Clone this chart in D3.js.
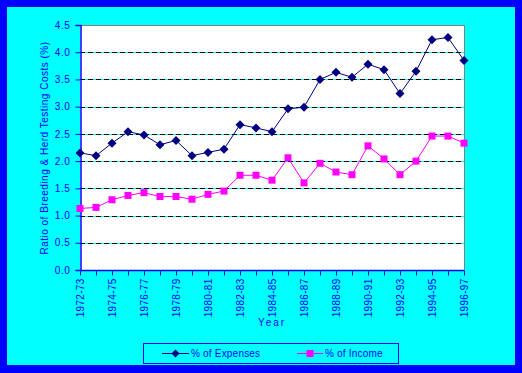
<!DOCTYPE html>
<html><head><meta charset="utf-8">
<script src="https://cdn.jsdelivr.net/npm/d3@7"></script>
<style>
html,body{margin:0;padding:0;background:#0000ff;}
svg{display:block;}
text{font-family:"Liberation Sans",Arial,sans-serif;fill:#0000ff;}
</style></head>
<body>
<svg id="c" width="522" height="373"></svg>
<script>
const years = ["1972-73","1973-74","1974-75","1975-76","1976-77","1977-78","1978-79","1979-80","1980-81","1981-82","1982-83","1983-84","1984-85","1985-86","1986-87","1987-88","1988-89","1989-90","1990-91","1991-92","1992-93","1993-94","1994-95","1995-96","1996-97"];
const expenses = [2.15,2.10,2.33,2.54,2.48,2.30,2.38,2.10,2.16,2.22,2.67,2.61,2.54,2.96,2.99,3.50,3.63,3.54,3.78,3.68,3.24,3.65,4.23,4.27,3.85];
const income = [1.13,1.15,1.29,1.37,1.42,1.35,1.35,1.30,1.39,1.45,1.74,1.74,1.65,2.06,1.60,1.96,1.80,1.75,2.28,2.04,1.75,2.00,2.46,2.46,2.33];
const yTicks = [0,0.5,1.0,1.5,2.0,2.5,3.0,3.5,4.0,4.5];
const seriesNames = ["% of Expenses","% of Income"];

const svg = d3.select("#c");
const W=522,H=373;
svg.append("rect").attr("width",W).attr("height",H).attr("fill","#0000ff");
svg.append("rect").attr("x",7).attr("y",7).attr("width",508).attr("height",358).attr("fill","#00ffff");

const L=80,R=464,T=25,B=270;
const x = d3.scalePoint().domain(years).range([L,R]);
const y = d3.scaleLinear().domain([0,4.5]).range([B,T]);

svg.append("rect").attr("x",L).attr("y",T).attr("width",R-L).attr("height",B-T).attr("fill","#ffffff");
svg.append("path").attr("d",`M${L},${T+0.5}H${R+0.5}V${B}`).attr("fill","none").attr("stroke","#808080").attr("stroke-width",1);

const grid = svg.append("g");
yTicks.filter(v=>v>0&&v<4.5).forEach(v=>{
  const yy = Math.round(y(v))+0.5;
  grid.append("line").attr("x1",L).attr("x2",R).attr("y1",yy).attr("y2",yy).attr("stroke","#00ffff");
  grid.append("line").attr("x1",L).attr("x2",R).attr("y1",yy).attr("y2",yy).attr("stroke","#000000").attr("stroke-dasharray","5,3");
});

const yAxis = d3.axisLeft(y).tickValues(yTicks).tickFormat(d3.format(".1f")).tickSize(5).tickPadding(5);
const gy = svg.append("g").attr("transform",`translate(${L+0.5},0)`).call(yAxis);
gy.select(".domain").attr("stroke","#0000ff").attr("stroke-width",1.5);
gy.selectAll(".tick line").attr("stroke","#0000ff");
gy.selectAll(".tick text").attr("fill","#0000ff").style("font-size","10px").style("letter-spacing","0.6px").style("font-family","Liberation Sans, Arial");

const xAxis = d3.axisBottom(x).tickSize(5).tickPadding(6).tickFormat((d,i)=> i%2===0 ? d : "");
const gx = svg.append("g").attr("transform",`translate(0,${B+0.5})`).call(xAxis);
gx.select(".domain").attr("stroke","#0000ff").attr("stroke-width",1.5).attr("d",`M${L},0H${R}`);
gx.selectAll(".tick line").attr("stroke","#0000ff");
gx.selectAll(".tick text").attr("fill","#0000ff").style("font-size","10px").style("letter-spacing","0.3px").style("font-family","Liberation Sans, Arial")
  .attr("transform","rotate(-90)").attr("text-anchor","end").attr("x",-8).attr("y",0).attr("dy","0.35em");

svg.append("text").attr("transform","translate(48,148) rotate(-90)").attr("text-anchor","middle")
  .style("font-size","10px").style("letter-spacing","0.5px").text("Ratio of Breeding & Herd Testing Costs (%)");
svg.append("text").attr("x",272).attr("y",326).attr("text-anchor","middle")
  .style("font-size","10px").style("letter-spacing","2px").text("Year");

const line = d3.line().x((d,i)=>x(years[i])).y(d=>y(d));
svg.append("path").datum(expenses).attr("d",line).attr("fill","none").attr("stroke","#000080").attr("stroke-width",1);
svg.append("path").datum(income).attr("d",line).attr("fill","none").attr("stroke","#ff00ff").attr("stroke-width",1);

const diamond = (cx,cy,s)=>`M${cx},${cy-s}L${cx+s},${cy}L${cx},${cy+s}L${cx-s},${cy}Z`;
svg.append("g").selectAll("path").data(expenses).join("path")
  .attr("d",(d,i)=>diamond(x(years[i]),y(d),4.5)).attr("fill","#000080");
svg.append("g").selectAll("rect").data(income).join("rect")
  .attr("x",(d,i)=>x(years[i])-3.5).attr("y",d=>y(d)-3.5).attr("width",7).attr("height",7).attr("fill","#ff00ff");

const lg = svg.append("g");
lg.append("rect").attr("x",143.5).attr("y",343.5).attr("width",255).attr("height",20).attr("fill","none").attr("stroke","#0000ff");
lg.append("line").attr("x1",162).attr("x2",189).attr("y1",353.5).attr("y2",353.5).attr("stroke","#000080");
lg.append("path").attr("d",diamond(175.5,353.5,4)).attr("fill","#000080");
lg.append("text").attr("x",191).attr("y",357).style("font-size","10px").style("letter-spacing","0.2px").text(seriesNames[0]);
lg.append("line").attr("x1",297).attr("x2",323).attr("y1",353.5).attr("y2",353.5).attr("stroke","#ff00ff");
lg.append("rect").attr("x",306.5).attr("y",350).attr("width",7).attr("height",7).attr("fill","#ff00ff");
lg.append("text").attr("x",325).attr("y",357).style("font-size","10px").style("letter-spacing","0.2px").text(seriesNames[1]);
</script>
</body></html>
